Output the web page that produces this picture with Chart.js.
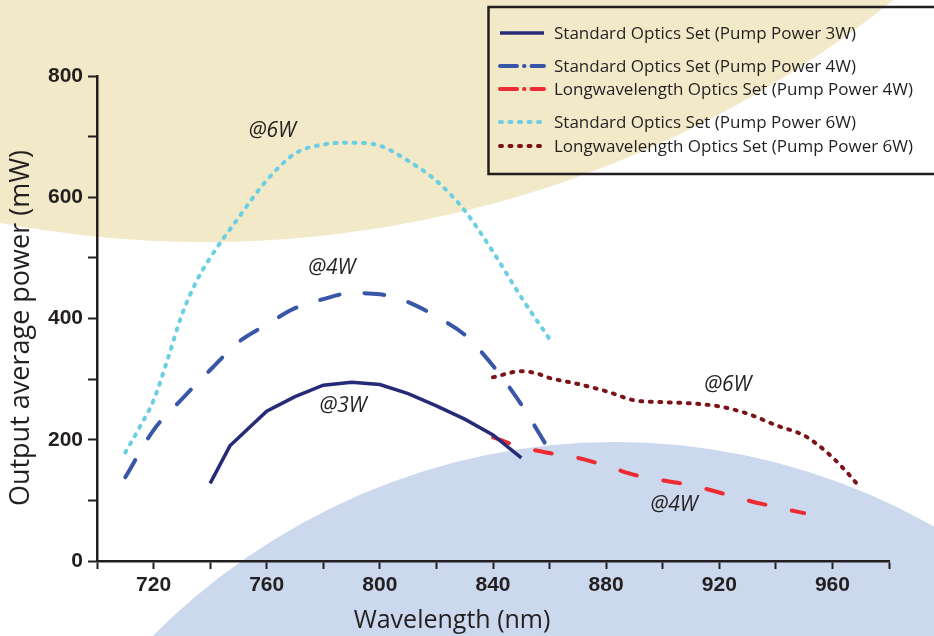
<!DOCTYPE html>
<html>
<head>
<meta charset="utf-8">
<script src="https://cdn.jsdelivr.net/npm/chart.js@4.4.1/dist/chart.umd.min.js"></script>
<style>
  html, body { margin: 0; padding: 0; background: #fff; }
  #chart { display: block; }
</style>
</head>
<body>
<canvas id="chart" width="934" height="636"></canvas>
<script>
// wavelengths (nm) and output power (mW)
const wl3W = [740, 747, 760, 770, 780, 790, 800, 810, 820, 830, 840, 850];
const std3W = [128, 190, 247, 271, 290, 295, 291, 276, 256, 234, 208, 170];

const wlStd4W = [710, 720, 730, 740, 750, 760, 770, 780, 790, 800, 810, 820, 830, 840, 850, 860];
const std4W = [138, 216, 267, 315, 361, 390, 417, 432, 442, 440, 427, 403, 373, 322, 258, 182];

const wlLong4W = [840, 850, 860, 870, 880, 890, 900, 910, 920, 930, 940, 950];
const long4W = [204, 188, 178, 170, 157, 142, 133, 125, 113, 100, 89, 79];

const wlStd6W = [710, 715, 720, 725, 730, 735, 740, 750, 760, 770, 780, 790, 800, 810, 820, 830, 840, 850, 860];
const std6W = [179, 220, 265, 333, 406, 460, 500, 566, 628, 672, 687, 690, 685, 660, 627, 578, 510, 435, 366];

const wlLong6W = [840, 850, 855, 860, 870, 880, 890, 900, 910, 920, 930, 940, 950, 955, 960, 965, 970];
const long6W = [303, 313, 310, 302, 292, 280, 265, 262, 260, 255, 243, 224, 207, 191, 171, 147, 120];

const seriesLabels = [
  "Standard Optics Set (Pump Power 3W)",
  "Standard Optics Set (Pump Power 4W)",
  "Longwavelength Optics Set (Pump Power 4W)",
  "Standard Optics Set (Pump Power 6W)",
  "Longwavelength Optics Set (Pump Power 6W)"
];

const xTickLabels = [720, 760, 800, 840, 880, 920, 960];
const yTickLabels = [0, 200, 400, 600, 800];

// curve labels, placed in data coordinates
const noteText = ["@6W", "@4W", "@3W", "@6W", "@4W"];
const noteWl = [762, 783, 787, 923, 904];
const notePower = [710, 483, 256, 290, 92];

const ink = "#231f20";

const pairs = (xs, ys) => xs.map((x, i) => ({ x: x, y: ys[i] }));

const bgPlugin = {
  id: "bg",
  beforeDraw(chart) {
    const ctx = chart.ctx;
    ctx.save();
    ctx.fillStyle = "#ffffff";
    ctx.fillRect(0, 0, chart.width, chart.height);
    ctx.fillStyle = "#f2e9c8";
    ctx.beginPath();
    ctx.arc(205, -858, 1100, 0, Math.PI * 2);
    ctx.fill();
    ctx.fillStyle = "#cbd8ee";
    ctx.beginPath();
    ctx.ellipse(615, 1132, 665, 690, 0, 0, Math.PI * 2);
    ctx.fill();
    ctx.restore();
  }
};

//curve labels, axis titles and the boxed legend
const textPlugin = {
  id: "texts",
  afterDraw(chart) {
    const ctx = chart.ctx;
    const sx = chart.scales.x;
    const sy = chart.scales.y;
    ctx.save();
    ctx.fillStyle = ink;
    ctx.textAlign = "center";
    ctx.textBaseline = "middle";

    ctx.font = "italic 21px 'Open Sans'";
    noteText.forEach((t, i) => {
      ctx.fillText(t, sx.getPixelForValue(noteWl[i]), sy.getPixelForValue(notePower[i]));
    });

    ctx.font = "25px 'Open Sans'";
    ctx.fillText("Wavelength (nm)", 452, 621);
    ctx.save();
    ctx.font = "27px 'Open Sans'";
    ctx.translate(21, 328);
    ctx.rotate(-Math.PI / 2);
    ctx.fillText("Output average power (mW)", 0, 0);
    ctx.restore();

    // legend
    ctx.strokeStyle = ink;
    ctx.lineWidth = 2.5;
    ctx.strokeRect(488.5, 7, 470, 167);
    const rowY = [33, 66, 89, 122, 146];
    const legendDash = [[], [17, 7, 0.5, 7], [17, 7, 0.5, 7], [2, 7.5], [2, 7.5]];
    const legendCap = ["butt", "round", "round", "round", "round"];
    ctx.textAlign = "left";
    ctx.font = "17px 'Open Sans'";
    chart.data.datasets.forEach((ds, i) => {
      ctx.save();
      ctx.strokeStyle = ds.borderColor;
      ctx.lineWidth = ds.borderWidth;
      ctx.lineCap = legendCap[i];
      ctx.setLineDash(legendDash[i]);
      ctx.beginPath();
      ctx.moveTo(500, rowY[i]);
      ctx.lineTo(544, rowY[i]);
      ctx.stroke();
      ctx.restore();
      ctx.fillText(ds.label, 554, rowY[i] + 1);
    });
    ctx.restore();
  }
};

const tickFont = { family: "'Liberation Sans', Arial, sans-serif", size: 21, weight: "bold" };

new Chart(document.getElementById("chart"), {
  type: "line",
  plugins: [bgPlugin, textPlugin],
  data: {
    datasets: [
      {
        label: seriesLabels[0],
        data: pairs(wl3W, std3W),
        borderColor: "#272b77",
        borderWidth: 3.5,
        tension: 0
      },
      {
        label: seriesLabels[1],
        data: pairs(wlStd4W, std4W),
        borderColor: "#3a56a8",
        borderWidth: 4,
        borderDash: [20, 25],
        borderCapStyle: "round",
        cubicInterpolationMode: "monotone"
      },
      {
        label: seriesLabels[2],
        data: pairs(wlLong4W, long4W),
        borderColor: "#ee2b32",
        borderWidth: 4,
        borderDash: [17, 27],
        borderCapStyle: "round",
        cubicInterpolationMode: "monotone"
      },
      {
        label: seriesLabels[3],
        data: pairs(wlStd6W, std6W),
        borderColor: "#6ccee2",
        borderWidth: 4,
        borderDash: [2, 7.5],
        borderCapStyle: "round",
        cubicInterpolationMode: "monotone"
      },
      {
        label: seriesLabels[4],
        data: pairs(wlLong6W, long6W),
        borderColor: "#7b1418",
        borderWidth: 4,
        borderDash: [2, 7.5],
        borderCapStyle: "round",
        cubicInterpolationMode: "monotone"
      }
    ]
  },
  options: {
    responsive: false,
    animation: false,
    layout: { padding: { top: 76, right: 45, left: 0, bottom: 0 } },
    elements: { point: { radius: 0 } },
    plugins: {
      legend: { display: false },
      tooltip: { enabled: false }
    },
    scales: {
      x: {
        type: "linear",
        min: 700,
        max: 980,
        afterFit: (s) => { s.height = 75; },
        ticks: {
          stepSize: 20,
          autoSkip: false,
          maxRotation: 0,
          padding: 4,
          color: ink,
          font: tickFont,
          callback: (v) => (xTickLabels.includes(v) ? String(v) : "")
        },
        grid: { drawOnChartArea: false, tickLength: 8, tickWidth: 2, tickColor: ink },
        border: { color: ink, width: 2.5 }
      },
      y: {
        min: 0,
        max: 800,
        afterFit: (s) => { s.width = 97; },
        ticks: {
          stepSize: 100,
          autoSkip: false,
          padding: 5,
          color: ink,
          font: tickFont,
          callback: (v) => (yTickLabels.includes(v) ? String(v) : "")
        },
        grid: { drawOnChartArea: false, tickLength: 9, tickWidth: 2, tickColor: ink },
        border: { color: ink, width: 2.5 }
      }
    }
  }
});
</script>
</body>
</html>
